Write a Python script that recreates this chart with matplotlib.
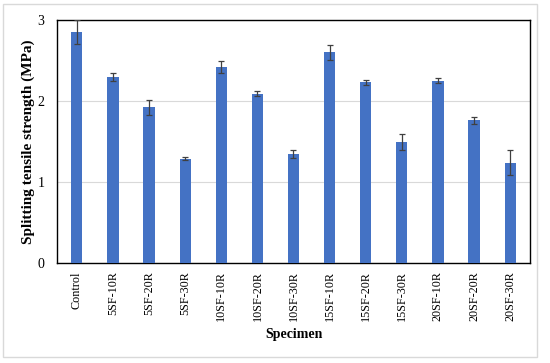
import matplotlib
matplotlib.use("Agg")
import matplotlib.pyplot as plt
from matplotlib.patches import Rectangle

categories = ["Control", "5SF-10R", "5SF-20R", "5SF-30R", "10SF-10R", "10SF-20R",
              "10SF-30R", "15SF-10R", "15SF-20R", "15SF-30R", "20SF-10R", "20SF-20R", "20SF-30R"]
strength = [2.85, 2.30, 1.92, 1.29, 2.42, 2.09, 1.35, 2.60, 2.23, 1.49, 2.25, 1.76, 1.24]
errors = [0.15, 0.05, 0.09, 0.02, 0.08, 0.03, 0.05, 0.09, 0.03, 0.10, 0.03, 0.04, 0.15]
yticks = [0, 1, 2, 3]

plt.rcParams['font.family'] = ['Liberation Serif', 'DejaVu Serif']

fig = plt.figure(figsize=(5.5, 3.63), dpi=100)
fig.patches.append(Rectangle((3/550, 1-357/363), 534/550, 353/363, transform=fig.transFigure,
                             fill=False, edgecolor='#d9d9d9', linewidth=1.0))
ax = fig.add_axes([57/550, 1-263/363, 473/550, 243/363])

x = list(range(len(categories)))
ax.bar(x, strength, width=0.31, color='#4472C4', zorder=3,
       yerr=errors, error_kw=dict(ecolor='#404040', elinewidth=0.9, capsize=2.5, capthick=0.9, zorder=4))

ax.set_xlim(-0.55, len(categories) - 0.45)
ax.set_ylim(0, 3)
ax.set_yticks(yticks)
ax.set_yticklabels([str(v) for v in yticks], fontsize=10)
ax.set_xticks(x)
ax.set_xticklabels(categories, rotation=90, fontsize=8.7)
ax.tick_params(axis='y', length=0, pad=9)
ax.tick_params(axis='x', length=0, pad=6)
ax.yaxis.grid(True, color='#d9d9d9', linewidth=0.8, zorder=0)
for s in ax.spines.values():
    s.set_color('black')
    s.set_linewidth(1.0)

ax.set_ylabel("Splitting tensile strength (MPa)", fontsize=11, fontweight='bold', labelpad=2)
ax.set_xlabel("Specimen", fontsize=10, fontweight='bold', labelpad=5)

fig.savefig("out.png", dpi=100)
